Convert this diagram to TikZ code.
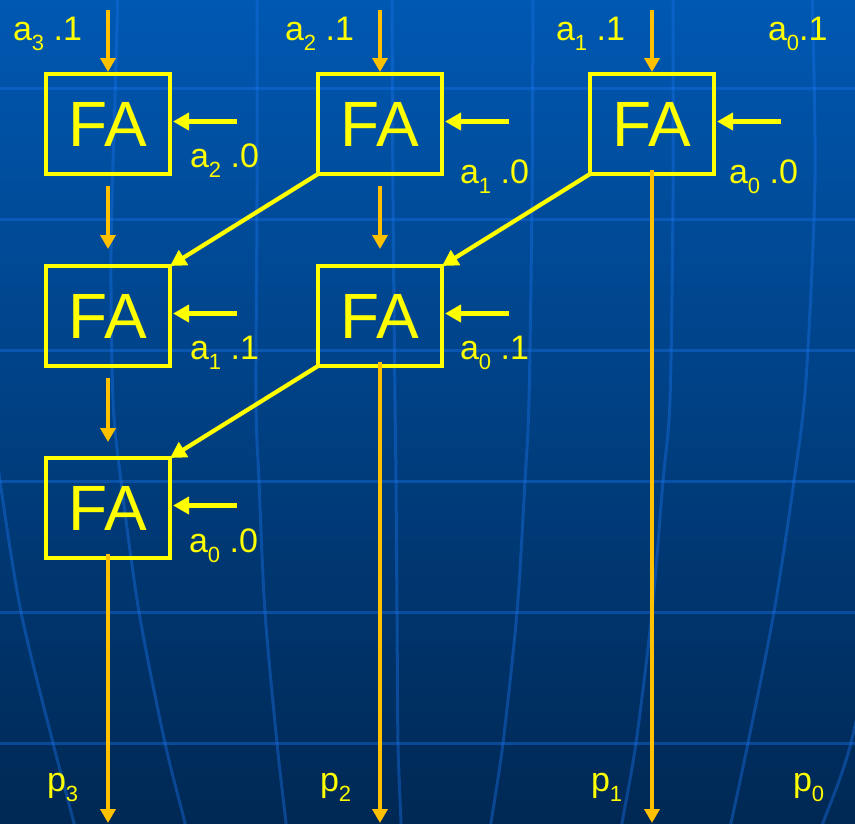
\documentclass[tikz,border=0pt]{standalone}
\usepackage{fontspec}
\setmainfont{Liberation Sans}
\usetikzlibrary{arrows.meta}
\definecolor{fay}{RGB}{255,255,0}
\definecolor{fao}{RGB}{255,192,0}
\definecolor{bgtop}{RGB}{0,88,178}
\definecolor{bgmid}{RGB}{0,64,130}
\definecolor{bgbot}{RGB}{0,40,84}
\definecolor{gridc}{RGB}{25,115,235}
\newcommand{\subd}[1]{\raisebox{-10pt}{\fontsize{22}{22}\selectfont #1}}
\begin{document}
\begin{tikzpicture}[x=1pt,y=-1pt,
  fabox/.style={draw=fay, line width=4.6pt, minimum width=124pt, minimum height=100pt,
    inner sep=0pt, outer sep=0pt, text=fay, font=\fontsize{64}{64}\selectfont},
  lab/.style={text=fay, inner sep=0pt, outer sep=0pt, anchor=base west, font=\fontsize{34}{34}\selectfont},
  oarrow/.style={draw=fao, line width=4pt, -{Triangle[length=14pt,width=15pt]}},
  yarrow/.style={draw=fay, line width=4.2pt, -{Triangle[length=16pt,width=17pt]}},
  gridline/.style={draw=gridc, line width=3pt, opacity=0.4}]
\useasboundingbox (0,0) rectangle (855,823);
\shade[top color=bgtop, middle color=bgmid, bottom color=bgbot] (0,0) rectangle (855,823);
\begin{scope}
\clip (0,0) rectangle (855,823);
\foreach \yy in {88,219,350,481,612,743} \draw[gridline] (-5,\yy) -- (860,\yy);
\draw[gridline] plot[smooth] coordinates {(-10,400) (0,481) (21,612) (53,743) (74,823) (78,840)};
\draw[gridline] plot[smooth] coordinates {(118,-10) (115,100) (111,250) (113,400) (121,481) (139,612) (165,743) (185,823) (188,840)};
\draw[gridline] plot[smooth] coordinates {(257,-10) (257,200) (256,400) (259,481) (265,612) (277,743) (286,823) (288,840)};
\draw[gridline] plot[smooth] coordinates {(392,-10) (393,200) (395,400) (396,481) (397,612) (398,743) (401,823) (401,840)};
\draw[gridline] plot[smooth] coordinates {(533,-10) (532,200) (529,400) (525,481) (517,612) (503,743) (491,823) (489,840)};
\draw[gridline] plot[smooth] coordinates {(673,-10) (673,200) (670,400) (663,481) (652,612) (636,743) (622,823) (619,840)};
\draw[gridline] plot[smooth] coordinates {(812,-10) (815,180) (806,380) (794,481) (774,612) (748,743) (731,823) (727,840)};
\draw[gridline] plot[smooth] coordinates {(880,600) (851,743) (823,823) (817,840)};
\end{scope}

% boxes
\node[fabox] (b11) at (108,124) {FA};
\node[fabox] (b12) at (380,124) {FA};
\node[fabox] (b13) at (652,124) {FA};
\node[fabox] (b21) at (108,316) {FA};
\node[fabox] (b22) at (380,316) {FA};
\node[fabox] (b31) at (108,508) {FA};

% labels
\node[lab] (l1) at (13,40) {a\subd{3} .1};
\node[lab] (l2) at (285,40) {a\subd{2} .1};
\node[lab] (l3) at (556,40) {a\subd{1} .1};
\node[lab] (l4) at (768,40) {a\subd{0}.1};
\node[lab] (l5) at (190,167) {a\subd{2} .0};
\node[lab] (l6) at (460,183) {a\subd{1} .0};
\node[lab] (l7) at (729,183) {a\subd{0} .0};
\node[lab] (l8) at (190,359) {a\subd{1} .1};
\node[lab] (l9) at (460,359) {a\subd{0} .1};
\node[lab] (l10) at (189,552) {a\subd{0} .0};
\node[lab] (p3) at (47,791) {p\subd{3}};
\node[lab] (p2) at (320,791) {p\subd{2}};
\node[lab] (p1) at (591,791) {p\subd{1}};
\node[lab] (p0) at (793,791) {p\subd{0}};

% top inputs
\coordinate (t1) at (108,10);
\coordinate (t2) at (380,10);
\coordinate (t3) at (652,10);
\draw[oarrow, shorten >=2pt] (t1) -- (b11.north);
\draw[oarrow, shorten >=2pt] (t2) -- (b12.north);
\draw[oarrow, shorten >=2pt] (t3) -- (b13.north);

% between rows
\draw[oarrow, shorten <=12pt, shorten >=17pt] (b11.south) -- (b21.north);
\draw[oarrow, shorten <=12pt, shorten >=17pt] (b12.south) -- (b22.north);
\draw[oarrow, shorten <=12pt, shorten >=16pt] (b21.south) -- (b31.north);

% horizontal inputs
\coordinate (h11) at (237,121.5);
\coordinate (h12) at (509,121.5);
\coordinate (h13) at (781,121.5);
\coordinate (h21) at (237,313.5);
\coordinate (h22) at (509,313.5);
\coordinate (h31) at (237,505.5);
\draw[yarrow, shorten >=3pt] (h11) -- (h11 -| b11.east);
\draw[yarrow, shorten >=3pt] (h12) -- (h12 -| b12.east);
\draw[yarrow, shorten >=3pt] (h13) -- (h13 -| b13.east);
\draw[yarrow, shorten >=3pt] (h21) -- (h21 -| b21.east);
\draw[yarrow, shorten >=3pt] (h22) -- (h22 -| b22.east);
\draw[yarrow, shorten >=3pt] (h31) -- (h31 -| b31.east);

% diagonal carries
\draw[yarrow] (b12.south west) -- (b21.north east);
\draw[yarrow] (b13.south west) -- (b22.north east);
\draw[yarrow] (b22.south west) -- (b31.north east);

% outputs
\coordinate (o1) at (108,823);
\coordinate (o2) at (380,823);
\coordinate (o3) at (652,823);
\draw[oarrow, shorten <=-4pt] (b31.south) -- (o1);
\draw[oarrow, shorten <=-4pt] (b22.south) -- (o2);
\draw[oarrow, shorten <=-4pt] (b13.south) -- (o3);
\end{tikzpicture}
\end{document}
